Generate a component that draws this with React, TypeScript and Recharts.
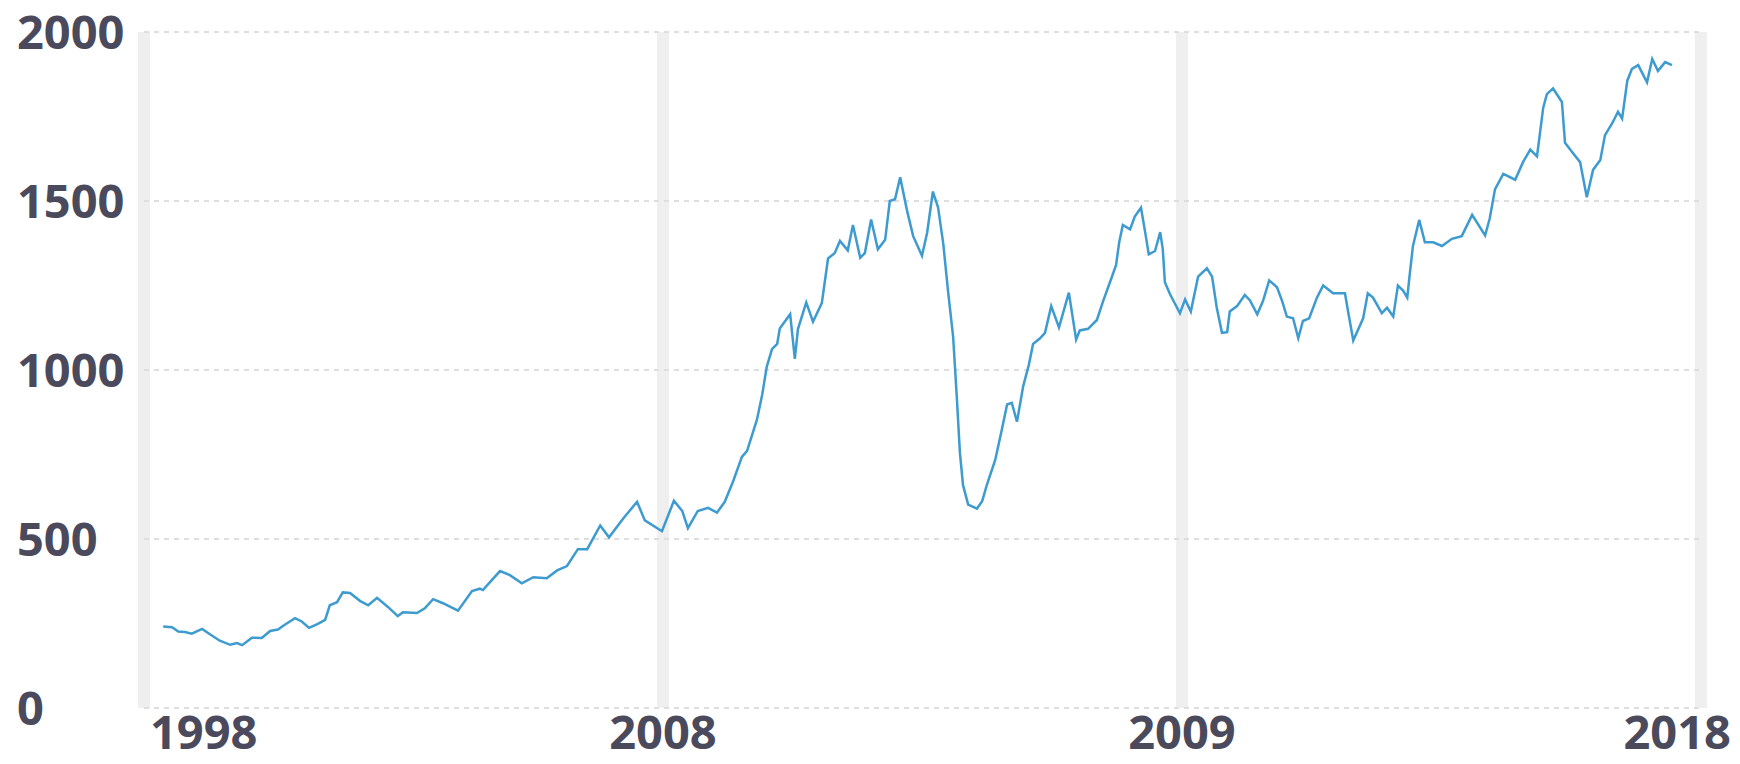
import React from 'react'
import { LineChart, Line, XAxis, YAxis, CartesianGrid } from 'recharts'

// x ticks sit on the four vertical bands, labels as printed in the source
const xTickValues = [0, 100, 200, 300]
const xTickLabels = ['1998', '2008', '2009', '2018']
const yTickValues = [0, 500, 1000, 1500, 2000]

// position along the time axis (0..300 between the first and last band)
const times = [
  3.7, 5.4, 6.6, 7.9, 9.2, 11.2, 12.7, 14.6, 16.6, 17.9,
  18.9, 20.8, 22.7, 24.3, 25.8, 27.2, 29.1, 30.4, 31.8, 33.5,
  34.9, 35.8, 37.2, 38.3, 39.7, 41.6, 43.2, 44.9, 47.0, 48.9,
  49.9, 52.6, 54.1, 55.7, 57.6, 60.5, 63.2, 64.7, 65.3, 67.1,
  68.6, 70.5, 72.8, 75.0, 77.6, 79.6, 81.5, 83.6, 85.4, 87.9,
  89.6, 92.3, 95.0, 96.5, 99.8, 102.1, 103.7, 104.8, 106.7, 108.7,
  110.4, 111.9, 113.5, 115.2, 116.2, 118.1, 119.1, 120.0, 121.0, 122.0,
  122.5, 124.5, 125.4, 126.0, 127.6, 128.9, 130.6, 131.8, 133.1, 134.1,
  135.6, 136.6, 138.0, 138.9, 140.1, 141.4, 142.8, 143.7, 144.7, 145.7,
  147.0, 148.2, 149.9, 150.9, 152.0, 153.0, 154.0, 154.9, 155.9, 156.6,
  157.2, 157.8, 158.8, 160.5, 161.5, 162.4, 164.0, 165.3, 166.3, 167.2,
  168.2, 169.4, 170.5, 171.3, 172.6, 173.6, 174.8, 176.3, 178.2, 179.6,
  180.3, 181.9, 183.6, 184.8, 186.5, 187.3, 187.9, 188.6, 190.0, 190.9,
  192.1, 192.9, 193.6, 194.8, 195.8, 196.3, 196.7, 197.7, 199.6, 200.6,
  201.7, 203.1, 204.8, 205.8, 206.7, 207.7, 208.7, 209.2, 210.6, 212.1,
  213.1, 214.5, 215.6, 216.8, 218.3, 219.3, 220.2, 221.4, 222.4, 223.3,
  224.5, 226.0, 227.2, 229.1, 231.4, 232.0, 233.0, 234.9, 235.8, 236.8,
  238.5, 239.5, 240.7, 241.6, 242.6, 243.4, 243.9, 244.5, 245.7, 246.8,
  248.4, 250.1, 252.0, 253.9, 255.9, 258.4, 259.3, 260.3, 261.9, 264.2,
  265.7, 267.1, 268.4, 269.6, 270.3, 271.5, 273.2, 273.8, 275.2, 276.7,
  278.0, 279.2, 280.6, 281.5, 282.9, 284.0, 284.8, 285.8, 286.7, 287.9,
  289.6, 290.6, 291.7, 293.1, 294.4
]

const values = [
  241, 239, 226, 225, 220, 234, 218, 199, 187, 192,
  186, 208, 207, 228, 232, 247, 266, 256, 237, 249,
  261, 304, 313, 342, 340, 317, 304, 326, 299, 272,
  283, 281, 295, 322, 310, 288, 346, 353, 349, 380,
  405, 393, 369, 387, 384, 407, 420, 470, 470, 540,
  505, 560, 610, 555, 523, 613, 583, 532, 583, 592,
  578, 610, 670, 743, 761, 853, 926, 1010, 1062, 1077,
  1123, 1165, 1033, 1121, 1200, 1143, 1198, 1330, 1346, 1382,
  1354, 1429, 1332, 1346, 1445, 1357, 1385, 1500, 1505, 1570,
  1473, 1396, 1338, 1407, 1528, 1481, 1374, 1236, 1099, 922,
  757, 660, 602, 590, 612, 660, 733, 825, 898, 903,
  847, 952, 1016, 1077, 1093, 1110, 1189, 1126, 1229, 1090,
  1117, 1122, 1148, 1204, 1276, 1311, 1378, 1429, 1416, 1454,
  1480, 1408, 1342, 1352, 1408, 1357, 1260, 1224, 1168, 1209,
  1173, 1276, 1301, 1276, 1184, 1110, 1112, 1173, 1189, 1222,
  1206, 1165, 1204, 1265, 1245, 1204, 1158, 1153, 1094, 1145,
  1153, 1214, 1250, 1227, 1227, 1173, 1087, 1153, 1227, 1214,
  1168, 1184, 1158, 1250, 1235, 1214, 1286, 1367, 1444, 1378,
  1378, 1367, 1388, 1396, 1459, 1398, 1449, 1534, 1580, 1563,
  1615, 1652, 1632, 1776, 1816, 1833, 1793, 1672, 1644, 1615,
  1511, 1592, 1621, 1695, 1730, 1764, 1744, 1856, 1891, 1902,
  1851, 1920, 1885, 1911, 1902
]

const data = times.map((t, i) => ({ t, value: values[i] }))

const labelColor = '#4a4a5c'
const labelFont = {
  fontFamily: '"Open Sans", sans-serif',
  fontWeight: 700,
  fontSize: 47
}

const XTick = (props: any) => {
  const { x, y, payload } = props
  const idx = xTickValues.indexOf(payload.value)
  let anchor = 'middle'
  let dx = 0
  if (idx === 0) {
    anchor = 'start'
    dx = 6
  } else if (idx === xTickValues.length - 1) {
    anchor = 'end'
    dx = 30
  }
  return (
    <text
      x={x + dx}
      y={y}
      dy="0.71em"
      textAnchor={anchor}
      fill={labelColor}
      {...labelFont}
    >
      {xTickLabels[idx]}
    </text>
  )
}

const YTick = (props: any) => {
  const { x, y, payload } = props
  return (
    <text x={x} y={y} dy="0.355em" textAnchor="start" fill={labelColor} {...labelFont}>
      {payload.value}
    </text>
  )
}

export default function App() {
  return (
    <div style={{ position: 'absolute', left: 0, top: 0, width: 1740, height: 764, background: '#fff' }}>
      <LineChart
        width={1740}
        height={764}
        data={data}
        margin={{ top: 32, right: 39, bottom: 0, left: 0 }}
      >
        <CartesianGrid horizontal={false} stroke="#efefef" strokeWidth={12} />
        <CartesianGrid vertical={false} stroke="#dedede" strokeWidth={2} strokeDasharray="5 5" />
        <XAxis
          type="number"
          dataKey="t"
          domain={[0, 300]}
          ticks={xTickValues}
          axisLine={false}
          tickLine={false}
          tickSize={0}
          tickMargin={8}
          height={56}
          tick={<XTick />}
          interval={0}
        />
        <YAxis
          domain={[0, 2000]}
          ticks={yTickValues}
          axisLine={false}
          tickLine={false}
          tickSize={0}
          tickMargin={127}
          width={144}
          tick={<YTick />}
          interval={0}
        />
        <Line
          type="linear"
          dataKey="value"
          stroke="#3d9bd0"
          strokeWidth={2.5}
          dot={false}
          isAnimationActive={false}
        />
      </LineChart>
    </div>
  )
}
